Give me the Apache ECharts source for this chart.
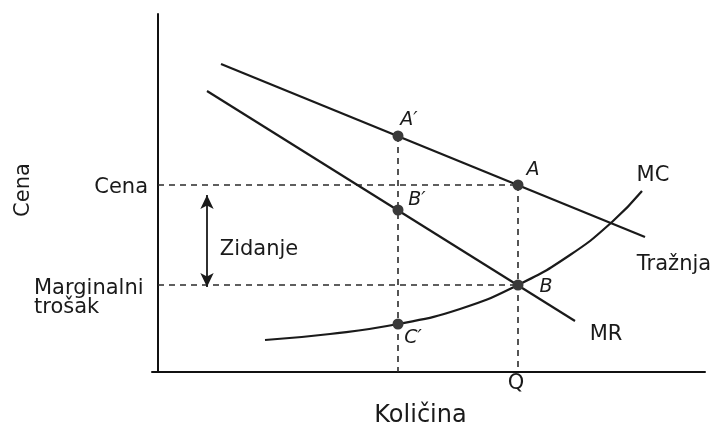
<!DOCTYPE html>
<html>
<head>
<meta charset="utf-8">
<script src="https://cdn.jsdelivr.net/npm/echarts@6/dist/echarts.min.js"></script>
<style>
  html, body { margin: 0; padding: 0; background: #fff; }
  #chart { width: 712px; height: 423px; }
</style>
</head>
<body>
<div id="chart"></div>
<script>
// krive (jedinice grafikona, ocitane sa slike)
const demand = [[63, 308], [487, 135]]
const mr = [[49, 281], [417, 51]]
const mc = [[107, 32], [172, 38], [240, 48], [302, 63], [360, 87], [412, 117], [454, 150], [484, 181]]

// kolicine i cene
const qPrime = 240
const qOpt = 360
const price = 187
const margCost = 87

// tacke A', A, B', B, C'
const points = [
  { name: "A′", value: [240, 236] },
  { name: "A", value: [360, 187] },
  { name: "B′", value: [240, 162] },
  { name: "B", value: [360, 87] },
  { name: "C′", value: [240, 48] },
]

// oznake tacaka
const pointLabels = [
  ["A′", 251, 252],
  ["A", 375, 202],
  ["B′", 259, 172],
  ["B", 388, 85],
  ["C′", 255, 34],
]
// oznake krivih i ostali tekst
const curveLabels = [
  ["MC", 495, 196],
  ["Tražnja", 516, 107],
  ["MR", 448, 37],
  ["Zidanje", 101, 122],
  ["Q", 358, -12],
]
const tickLabels = [
  ["Cena", -10, 184, "right"],
  ["Marginalni\ntrošak", -124, 74, "left"],
]
const markup = [[49, 177], [49, 85]]

const ink = '#1a1a1a'
const font = 'DejaVu Sans'
const dashed = { color: '#2a2a2a', width: 1.6, type: [6, 5] }

const dashLine = (data) => ({
  type: 'line',
  data: data,
  symbol: 'none',
  silent: true,
  lineStyle: dashed,
})

const textSeries = (data, label) => ({
  type: 'scatter',
  clip: false,
  silent: true,
  symbolSize: 0,
  itemStyle: { opacity: 1 },
  data: data,
  label: Object.assign({ show: true, position: 'inside', formatter: '{b}', color: ink }, label),
})

const myChart = echarts.init(document.getElementById('chart'))
const option = {
  animation: false,
  textStyle: { fontFamily: font },
  grid: { left: 152, right: 7, top: 14, bottom: 51, outerBoundsMode: 'none' },
  xAxis: {
    type: 'value',
    min: -6,
    max: 547,
    name: 'Količina',
    nameLocation: 'middle',
    nameGap: 32,
    nameTextStyle: { fontSize: 24, color: ink, padding: [0, 16, 0, 0] },
    axisLine: { lineStyle: { color: '#111', width: 2 } },
    axisTick: { show: false },
    axisLabel: { show: false },
    splitLine: { show: false },
  },
  yAxis: {
    type: 'value',
    min: 0,
    max: 358,
    name: 'Cena',
    nameLocation: 'middle',
    nameGap: 118,
    nameRotate: 90,
    nameTextStyle: { fontSize: 21, color: ink, padding: [0, 0, 0, 6] },
    axisLine: { lineStyle: { color: '#111', width: 2 } },
    axisTick: { show: false },
    axisLabel: { show: false },
    splitLine: { show: false },
  },
  series: [
    dashLine([[0, price], [qOpt, price]]),
    dashLine([[0, margCost], [qOpt, margCost]]),
    dashLine([[qPrime, 236], [qPrime, 0]]),
    dashLine([[qOpt, price], [qOpt, 0]]),
    {
      name: 'Tražnja',
      type: 'line',
      data: demand,
      symbol: 'none',
      lineStyle: { color: ink, width: 2.2 },
    },
    {
      name: 'MR',
      type: 'line',
      data: mr,
      symbol: 'none',
      lineStyle: { color: ink, width: 2.2 },
    },
    {
      name: 'MC',
      type: 'line',
      data: mc,
      smooth: true,
      symbol: 'none',
      lineStyle: { color: ink, width: 2.2 },
    },
    {
      type: 'line',
      data: [],
      markLine: {
        silent: true,
        symbol: ['arrow', 'arrow'],
        symbolSize: [10, 14],
        label: { show: false },
        lineStyle: { color: ink, width: 1.8, type: 'solid' },
        data: [[{ coord: markup[0] }, { coord: markup[1] }]],
      },
    },
    {
      type: 'scatter',
      data: points,
      symbolSize: 11,
      itemStyle: { color: '#3a3a3a', opacity: 1 },
      z: 5,
    },
    textSeries(
      pointLabels.map(([t, x, y]) => ({ name: t, value: [x, y] })),
      { fontSize: 19, fontStyle: 'italic' },
    ),
    textSeries(
      curveLabels.map(([t, x, y]) => ({ name: t, value: [x, y] })),
      { fontSize: 21 },
    ),
    textSeries(
      tickLabels.map(([t, x, y, a]) => ({ name: t, value: [x, y], label: { align: a } })),
      { fontSize: 21, lineHeight: 19 },
    ),
  ],
}
myChart.setOption(option)
</script>
</body>
</html>
